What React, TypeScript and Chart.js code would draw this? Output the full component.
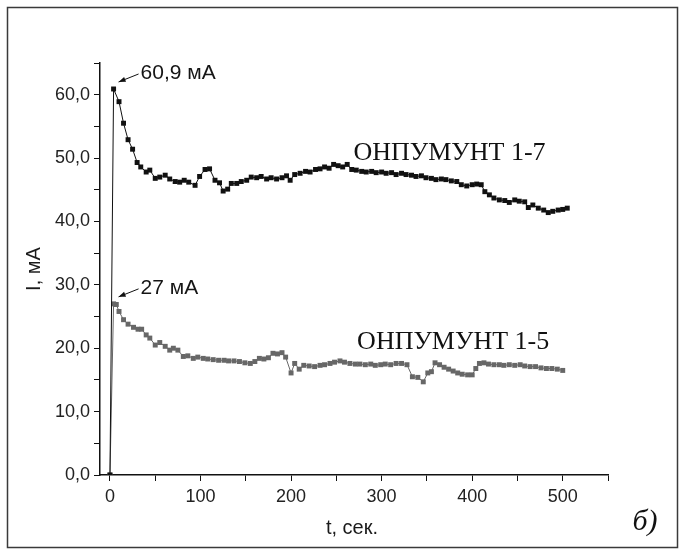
import React, { useEffect, useRef } from 'react';
import { Chart, registerables } from 'chart.js';
Chart.register(...registerables);

// ---- data ----
const seriesNames = ['ОНПУМУНТ 1-7', 'ОНПУМУНТ 1-5'];
const peakLabels = ['60,9 мА', '27 мА'];

const t17 = [0, 4, 10, 15, 20, 25, 30, 34, 40, 44, 50, 55, 61, 66, 72, 77, 82, 87, 94, 99, 105, 110, 116, 121, 125, 130, 134, 140, 145, 151, 156, 162, 167, 173, 178, 184, 190, 195, 199, 204, 210, 216, 221, 227, 232, 237, 242, 247, 252, 257, 262, 267, 272, 278, 283, 289, 294, 300, 305, 311, 316, 322, 327, 333, 338, 344, 349, 355, 360, 366, 371, 377, 383, 388, 394, 400, 405, 410, 414, 419, 424, 430, 436, 441, 447, 452, 458, 462, 467, 473, 479, 484, 489, 495, 500, 505];
const i17 = [0, 60.9, 58.9, 55.5, 52.9, 51.4, 49.3, 48.6, 47.8, 48.1, 46.8, 47.0, 47.3, 46.7, 46.3, 46.2, 46.5, 46.2, 45.7, 47.1, 48.2, 48.3, 46.5, 46.1, 44.8, 45.1, 46.0, 46.0, 46.3, 46.5, 47.0, 46.9, 47.1, 46.7, 46.9, 46.7, 46.9, 47.2, 46.5, 47.4, 47.6, 47.9, 47.8, 48.2, 48.3, 48.6, 48.4, 49.0, 48.8, 48.6, 49.0, 48.2, 48.1, 47.9, 47.8, 47.9, 47.7, 47.8, 47.6, 47.7, 47.4, 47.6, 47.4, 47.3, 47.1, 47.2, 46.9, 46.8, 46.6, 46.7, 46.6, 46.4, 46.3, 45.8, 45.6, 45.8, 45.9, 45.8, 44.7, 44.2, 43.7, 43.4, 43.3, 43.0, 43.4, 43.2, 43.1, 42.2, 42.6, 42.1, 41.8, 41.4, 41.6, 41.8, 41.9, 42.1];

const t15 = [0, 4, 7, 10, 15, 20, 26, 31, 35, 40, 44, 50, 55, 61, 66, 70, 75, 81, 86, 92, 97, 103, 108, 114, 120, 126, 131, 137, 143, 149, 155, 160, 165, 170, 175, 180, 185, 190, 194, 200, 204, 209, 214, 220, 226, 232, 237, 243, 248, 254, 259, 265, 271, 276, 282, 288, 293, 299, 304, 310, 316, 322, 328, 334, 340, 346, 351, 355, 359, 364, 369, 374, 379, 384, 389, 395, 400, 404, 408, 413, 418, 424, 430, 435, 441, 447, 453, 458, 464, 470, 476, 482, 488, 494, 500];
const i15 = [0, 27.0, 26.9, 25.8, 24.5, 23.8, 23.3, 23.0, 23.0, 22.1, 21.6, 20.5, 20.9, 20.3, 19.7, 20.0, 19.7, 18.7, 18.8, 18.4, 18.6, 18.4, 18.3, 18.2, 18.1, 18.1, 18.0, 18.0, 17.9, 17.7, 17.6, 17.9, 18.4, 18.3, 18.5, 19.2, 19.1, 19.3, 18.6, 16.1, 17.6, 16.7, 17.3, 17.2, 17.1, 17.3, 17.4, 17.6, 17.8, 18.0, 17.8, 17.6, 17.5, 17.5, 17.4, 17.5, 17.3, 17.4, 17.5, 17.4, 17.6, 17.6, 17.4, 15.5, 15.4, 14.7, 16.1, 16.3, 17.7, 17.4, 17.0, 16.7, 16.4, 16.1, 15.9, 15.8, 15.8, 16.8, 17.6, 17.7, 17.5, 17.4, 17.4, 17.3, 17.4, 17.3, 17.4, 17.2, 17.1, 17.1, 16.9, 16.8, 16.8, 16.7, 16.5];

// axis settings
const xMin = -11, xMax = 550, xMajor = 100, xMinor = 50;
const yMin = 0, yMax = 65, yMajor = 10, yMinor = 5;
const xTitle = 't, сек.';
const yTitle = 'I, мА';
const panelLabel = 'б)';
// series name label anchors in data coordinates (t, I)
const nameAnchors = [[375, 50.8], [379, 21.0]];

const colors = ['#111111', '#676767'];
const SANS = '"Liberation Sans", Arial, sans-serif';
const SERIF = '"Liberation Serif", "Times New Roman", serif';

const fmt = (v: number) => v.toFixed(1).replace('.', ',');

const overlay = {
  id: 'overlay',
  afterDatasetsDraw(chart: any) {
    const { ctx, scales } = chart;
    const xs = scales.x, ys = scales.y;
    ctx.save();
    // frame
    ctx.strokeStyle = '#3a3a3a';
    ctx.lineWidth = 1.5;
    ctx.strokeRect(7.5, 7.5, 670, 540);

    // peak annotations
    const sets = [[t17, i17], [t15, i15]];
    sets.forEach(([ts, vs], k) => {
      let idx = 0;
      vs.forEach((v, i) => { if (v > vs[idx]) idx = i; });
      const px = xs.getPixelForValue(ts[idx]);
      const py = ys.getPixelForValue(vs[idx]);
      const tipX = px + 5, tipY = py - 7;
      const tailX = tipX + 20, tailY = tipY - 8;
      ctx.strokeStyle = '#111';
      ctx.fillStyle = '#111';
      ctx.lineWidth = 1;
      ctx.beginPath();
      ctx.moveTo(tailX, tailY);
      ctx.lineTo(tipX, tipY);
      ctx.stroke();
      const ang = Math.atan2(tipY - tailY, tipX - tailX);
      const L = 7, W = 2.6;
      ctx.beginPath();
      ctx.moveTo(tipX, tipY);
      ctx.lineTo(tipX - L * Math.cos(ang) + W * Math.sin(ang), tipY - L * Math.sin(ang) - W * Math.cos(ang));
      ctx.lineTo(tipX - L * Math.cos(ang) - W * Math.sin(ang), tipY - L * Math.sin(ang) + W * Math.cos(ang));
      ctx.closePath();
      ctx.fill();
      ctx.font = `21px ${SANS}`;
      ctx.textAlign = 'left';
      ctx.textBaseline = 'middle';
      ctx.fillStyle = '#151515';
      ctx.fillText(peakLabels[k], tailX + 2, tailY - 1);
    });

    // series names
    ctx.font = `26px ${SERIF}`;
    ctx.fillStyle = '#111';
    ctx.textAlign = 'center';
    ctx.textBaseline = 'middle';
    nameAnchors.forEach(([t, v], k) => {
      ctx.fillText(seriesNames[k], xs.getPixelForValue(t), ys.getPixelForValue(v));
    });

    // axis titles
    ctx.font = `20px ${SANS}`;
    ctx.fillStyle = '#1a1a1a';
    ctx.fillText(xTitle, (xs.left + xs.right) / 2 - 2, 528);
    ctx.save();
    ctx.translate(34, (ys.top + ys.bottom) / 2);
    ctx.rotate(-Math.PI / 2);
    ctx.fillText(yTitle, 0, 0);
    ctx.restore();

    // panel label
    ctx.font = `italic 30px ${SERIF}`;
    ctx.fillStyle = '#111';
    ctx.fillText(panelLabel, 645, 522);
    ctx.restore();
  },
};

export default function App() {
  const ref = useRef<HTMLCanvasElement>(null);
  useEffect(() => {
    if (!ref.current) return;
    const mk = (ts: number[], vs: number[]) => ts.map((t, i) => ({ x: t, y: vs[i] }));
    const chart = new Chart(ref.current, {
      type: 'line',
      data: {
        datasets: [
          { label: seriesNames[0], data: mk(t17, i17), borderColor: colors[0], backgroundColor: colors[0], borderWidth: 1, pointStyle: 'rect', pointRadius: 3.5, pointBorderWidth: 0, tension: 0 },
          { label: seriesNames[1], data: mk(t15, i15), borderColor: colors[1], backgroundColor: colors[1], borderWidth: 1, pointStyle: 'rect', pointRadius: 3.5, pointBorderWidth: 0, tension: 0 },
        ],
      },
      options: {
        responsive: false,
        animation: false,
        layout: { padding: { top: 63, right: 77, left: 0, bottom: 0 } },
        plugins: { legend: { display: false }, tooltip: { enabled: false } },
        scales: {
          x: {
            type: 'linear', min: xMin, max: xMax,
            afterFit: (s: any) => { s.height = 80; },
            border: { display: true, color: '#111', width: 1.5 },
            grid: {
              drawOnChartArea: false, drawTicks: true, tickLength: 6,
              color: (c: any) => (c.tick && c.tick.value % xMinor === 0 ? '#111' : 'rgba(0,0,0,0)'),
            },
            ticks: {
              stepSize: xMinor, autoSkip: false, maxRotation: 0, padding: 5, includeBounds: false,
              color: '#222', font: { family: SANS, size: 18 },
              callback: (v: any) => (Number(v) % xMajor === 0 ? String(v) : ''),
            },
          },
          y: {
            type: 'linear', min: yMin, max: yMax,
            afterFit: (s: any) => { s.width = 100; },
            border: { display: true, color: '#111', width: 1.5 },
            grid: {
              drawOnChartArea: false, drawTicks: true, tickLength: 6,
              color: (c: any) => (c.tick && c.tick.value % yMinor === 0 ? '#111' : 'rgba(0,0,0,0)'),
            },
            ticks: {
              stepSize: yMinor, autoSkip: false, padding: 4,
              color: '#222', font: { family: SANS, size: 18 },
              callback: (v: any) => (Number(v) % yMajor === 0 ? fmt(Number(v)) : ''),
            },
          },
        },
      },
      plugins: [overlay],
    });
    return () => chart.destroy();
  }, []);
  return (
    <div style={{ position: 'absolute', left: 0, top: 0, width: 685, height: 555, background: '#fff' }}>
      <canvas ref={ref} width={685} height={555} style={{ display: 'block' }} />
    </div>
  );
}
